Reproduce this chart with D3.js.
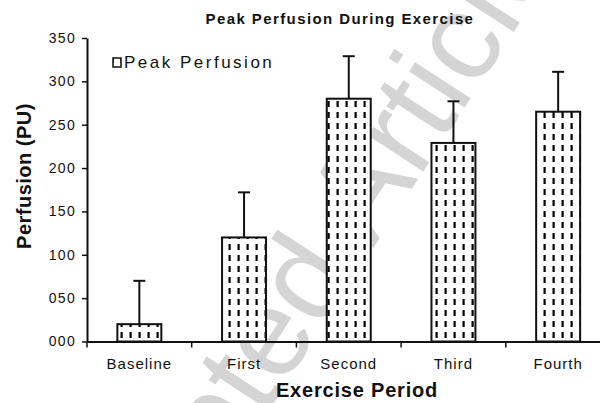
<!DOCTYPE html>
<html><head><meta charset="utf-8">
<script src="https://cdn.jsdelivr.net/npm/d3@7"></script>
<style>
html,body{margin:0;padding:0;background:#fff;}
svg{display:block;}
text{font-family:"Liberation Sans",Arial,sans-serif;}
</style></head>
<body>
<svg id="chart" width="600" height="403"></svg>
<script>
const categories = ["Baseline","First","Second","Third","Fourth"];
const values = [20,120,280,229,265];
const errors = [50,52,49,48,46];
const yTicks = [0,50,100,150,200,250,300,350];
const title = "Peak Perfusion During Exercise";
const seriesName = "Peak Perfusion";
const xTitle = "Exercise Period";
const yTitle = "Perfusion (PU)";
const watermark = "Accepted Article";

(function(){
const svg = d3.select("#chart");
const mLeft = 87, mRight = 610.5, mTop = 38, mBottom = 341.5;

// watermark
svg.append("text")
  .attr("transform","translate(74,709) rotate(-57)")
  .attr("font-size",125)
  .attr("fill","#d4d4d4")
  .text(watermark);

const defs = svg.append("defs");
const pat = defs.append("pattern").attr("id","dash")
  .attr("patternUnits","userSpaceOnUse").attr("width",9).attr("height",11);
pat.append("rect").attr("width",9).attr("height",11).attr("fill","#fff");
pat.append("rect").attr("x",3.5).attr("y",2).attr("width",2.2).attr("height",6).attr("fill","#000");

const x = d3.scaleBand().domain(categories).range([mLeft,mRight]).paddingInner(0.58).paddingOuter(0.29);
const y = d3.scaleLinear().domain([0,350]).range([mBottom,mTop]);

// bars
const g = svg.append("g");
g.selectAll("rect.bar").data(categories).join("rect")
  .attr("class","bar")
  .attr("x",d=>x(d)).attr("width",x.bandwidth())
  .attr("y",(d,i)=>y(values[i])).attr("height",(d,i)=>y(0)-y(values[i]))
  .attr("fill","url(#dash)").attr("stroke","#111").attr("stroke-width",2);

// error bars
g.selectAll("line.err").data(categories).join("line")
  .attr("class","err")
  .attr("x1",d=>x(d)+x.bandwidth()/2).attr("x2",d=>x(d)+x.bandwidth()/2)
  .attr("y1",(d,i)=>y(values[i])).attr("y2",(d,i)=>y(values[i]+errors[i]))
  .attr("stroke","#111").attr("stroke-width",2);
g.selectAll("line.cap").data(categories).join("line")
  .attr("class","cap")
  .attr("x1",d=>x(d)+x.bandwidth()/2-6).attr("x2",d=>x(d)+x.bandwidth()/2+6)
  .attr("y1",(d,i)=>y(values[i]+errors[i])).attr("y2",(d,i)=>y(values[i]+errors[i]))
  .attr("stroke","#111").attr("stroke-width",2);

// y axis
const yAxis = d3.axisLeft(y).tickValues(yTicks).tickFormat(d3.format("03d")).tickSize(5).tickSizeOuter(0).tickPadding(6);
const ya = svg.append("g").attr("transform",`translate(${mLeft},0)`).call(yAxis);
ya.select(".domain").attr("stroke","#111").attr("stroke-width",2);
ya.selectAll(".tick line").attr("stroke","#111").attr("stroke-width",1.5);
ya.selectAll(".tick text").attr("font-size",14).attr("letter-spacing","1.3px")
  .attr("font-family","'Liberation Sans',Arial,sans-serif").attr("fill","#111");

// x axis
const xAxis = d3.axisBottom(x).tickSize(0).tickPadding(17);
const xa = svg.append("g").attr("transform",`translate(0,${mBottom})`).call(xAxis);
xa.select(".domain").attr("stroke","#111").attr("stroke-width",2);
xa.selectAll(".tick text").attr("font-size",15).attr("letter-spacing","1px")
  .attr("font-family","'Liberation Sans',Arial,sans-serif").attr("fill","#111");
const step = x.step();
xa.selectAll("line.sep").data(d3.range(categories.length+1)).join("line")
  .attr("class","sep")
  .attr("x1",i=>mLeft+i*step).attr("x2",i=>mLeft+i*step)
  .attr("y1",0).attr("y2",6).attr("stroke","#111").attr("stroke-width",1.5);

// title
svg.append("text").attr("x",340).attr("y",24).attr("text-anchor","middle")
  .attr("font-size",15).attr("font-weight","bold").attr("letter-spacing","1.4px").attr("fill","#111")
  .text(title);
// axis titles
svg.append("text").attr("x",357).attr("y",397).attr("text-anchor","middle")
  .attr("font-size",20).attr("font-weight","bold").attr("letter-spacing","0.8px").attr("fill","#111")
  .text(xTitle);
svg.append("text").attr("transform","translate(31,176) rotate(-90)").attr("text-anchor","middle")
  .attr("font-size",20).attr("font-weight","bold").attr("letter-spacing","0.5px").attr("fill","#111")
  .text(yTitle);

// legend
const lg = svg.append("g");
lg.append("rect").attr("x",113).attr("y",58).attr("width",8).attr("height",9)
  .attr("fill","url(#dash)").attr("stroke","#111").attr("stroke-width",1.5);
lg.append("text").attr("x",124).attr("y",68).attr("font-size",17).attr("letter-spacing","2.5px").attr("fill","#111")
  .text(seriesName);
})();
</script>
</body></html>
